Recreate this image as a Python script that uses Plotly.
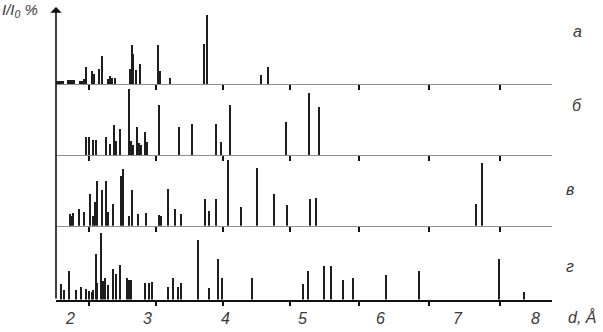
import plotly.graph_objects as go

# ---- data: interplanar distance d (Å) and relative intensity I/I0 (%) ----
d_a = [1.832, 1.852, 1.871, 1.893, 1.914, 1.970, 1.991, 2.013, 2.035, 2.055,
       2.133, 2.155, 2.185, 2.206, 2.284, 2.314, 2.378, 2.409, 2.486, 2.516,
       2.546, 2.581, 2.774, 2.796, 2.817, 2.852, 2.903, 3.135, 3.157, 3.294,
       3.729, 3.772, 4.465, 4.551]
i_a = [5, 5, 5, 5, 5, 6, 6, 6, 6, 6,
       5, 5, 7, 24, 19, 15, 21, 40, 7, 11,
       9, 9, 21, 56, 43, 20, 29, 56, 19, 9,
       57, 98, 13, 24]

d_b = [2.206, 2.241, 2.301, 2.339, 2.461, 2.516, 2.564, 2.594, 2.645, 2.757,
       2.783, 2.813, 2.861, 2.886, 2.920, 2.964, 2.994, 3.152, 3.406, 3.570,
       3.880, 3.952, 4.061, 4.791, 5.080, 5.213]
i_b = [26, 26, 22, 22, 26, 16, 43, 20, 37, 95,
       20, 15, 40, 17, 15, 33, 18, 72, 40, 44,
       44, 18, 71, 47, 89, 68]

d_v = [2.000, 2.017, 2.043, 2.120, 2.177, 2.258, 2.301, 2.323, 2.348, 2.417,
       2.465, 2.494, 2.555, 2.654, 2.684, 2.757, 2.804, 2.874, 2.977, 3.145,
       3.170, 3.265, 3.351, 3.432, 3.746, 3.790, 3.884, 4.039, 4.203, 4.413,
       4.636, 4.796, 5.093, 5.178, 7.239, 7.320]
i_v = [17, 15, 18, 25, 20, 46, 14, 34, 64, 51,
       64, 20, 31, 72, 82, 15, 51, 17, 19, 16,
       15, 53, 25, 17, 38, 21, 39, 94, 27, 83,
       46, 30, 39, 40, 31, 90]

d_g = [1.884, 1.919, 1.983, 2.077, 2.142, 2.206, 2.245, 2.280, 2.301, 2.335,
       2.352, 2.400, 2.422, 2.448, 2.494, 2.551, 2.594, 2.641, 2.732, 2.765,
       2.783, 2.968, 3.023, 3.054, 3.261, 3.333, 3.397, 3.432, 3.648, 3.797,
       3.906, 3.961, 4.345, 5.003, 5.071, 5.277, 5.372, 5.519, 5.652, 6.074,
       6.499, 7.532, 7.858]
i_g = [23, 14, 42, 14, 19, 16, 13, 12, 15, 66,
       24, 96, 27, 31, 22, 45, 37, 50, 32, 28,
       29, 25, 24, 26, 18, 32, 18, 24, 86, 17,
       59, 32, 31, 23, 42, 49, 48, 28, 32, 36,
       41, 58, 11]

panel_labels = ["а", "б", "в", "г"]
tick_marks = [2.245, 3.110, 3.974, 4.839, 5.729, 6.632, 7.548]
tick_labels = ["2", "3", "4", "5", "6", "7", "8"]
label_vals = [2, 3, 4, 5, 6, 7, 8]

W, H = 603, 332
L, R = 56, 51
X_RANGE = [1.819, 8.219]
baselines_px = [84.3, 155.3, 225.7, 299.5]
panel_h_px = 70

def py(p):
    return 1 - p / H

def pxp(p):
    return (p - L) / (W - L - R)

series = [(d_a, i_a), (d_b, i_b), (d_v, i_v), (d_g, i_g)]
fig = go.Figure()
layout = dict(width=W, height=H, margin=dict(l=L, r=R, t=0, b=0),
              paper_bgcolor="white", plot_bgcolor="white", showlegend=False,
              bargap=0)

for k, (dx, iy) in enumerate(series):
    n = "" if k == 0 else str(k + 1)
    fig.add_trace(go.Bar(x=dx, y=iy, width=0.015, xaxis="x" + n, yaxis="y" + n,
                         marker=dict(color="#1e1e1e", line=dict(width=0))))
    bottom = k == 3
    layout["xaxis" + n] = dict(
        range=X_RANGE, anchor="y" + n, showgrid=False, zeroline=False,
        showline=True, linecolor="#111111" if bottom else "#8f8f8f",
        linewidth=1.6 if bottom else 1.2,
        tickmode="array", tickvals=tick_marks, ticktext=[""] * len(tick_marks),
        ticks="outside", ticklen=5, tickwidth=1.6, tickcolor="#111111",
        showticklabels=False, fixedrange=True)
    if k > 0:
        layout["xaxis" + n]["matches"] = "x"
    b = baselines_px[k]
    layout["yaxis" + n] = dict(domain=[py(b), py(b - panel_h_px)], range=[0, 100],
                               visible=False, fixedrange=True)

fig.update_layout(**layout)

font = dict(family="Liberation Sans", size=16, color="#3a3a3a", style="italic")
ann = []
# x tick labels
for v, t in zip(label_vals, tick_labels):
    ann.append(dict(x=v, y=py(318), xref="x4", yref="paper", text=t,
                    xanchor="center", yanchor="middle", showarrow=False, font=font))
# panel letters
letter_pos = [(577, 31), (577, 106), (570, 189), (570, 266)]
for (px_, py_), t in zip(letter_pos, panel_labels):
    ann.append(dict(x=pxp(px_), y=py(py_), xref="paper", yref="paper",
                    text=t, xanchor="center", yanchor="middle", showarrow=False, font=font))
# axis titles
ann.append(dict(x=pxp(582), y=py(317), xref="paper", yref="paper",
                text="d, Å", xanchor="center", yanchor="middle", showarrow=False, font=font))
ann.append(dict(x=pxp(20), y=py(11), xref="paper", yref="paper",
                text="I/I<sub>0</sub> %", xanchor="center", yanchor="middle", showarrow=False,
                font=dict(family="Liberation Sans", size=15, color="#3a3a3a", style="italic")))
# vertical axis with arrow
ann.append(dict(x=0, y=py(7), xref="paper", yref="paper", ax=0, ay=293,
                axref="pixel", ayref="pixel", showarrow=True, arrowhead=1,
                arrowsize=1.2, arrowwidth=1.6, arrowcolor="#111111", text=""))
fig.update_layout(annotations=ann)

fig.write_html("out.html")
